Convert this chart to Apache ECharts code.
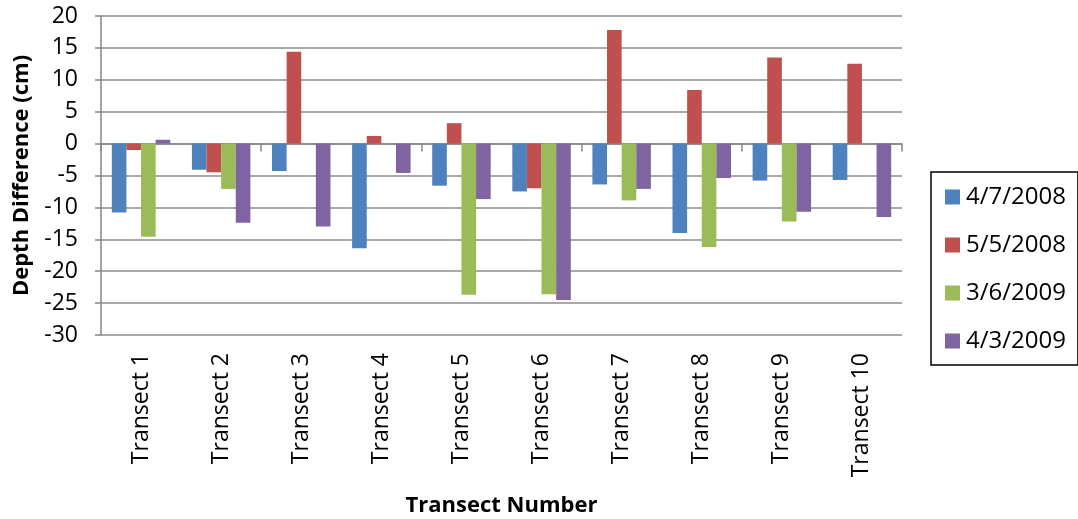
<!DOCTYPE html>
<html>
<head>
<meta charset="utf-8">
<script src="https://cdn.jsdelivr.net/npm/echarts@6/dist/echarts.min.js"></script>
<style>
html,body{margin:0;padding:0;background:#fff;}
#chart{width:1078px;height:519px;}
</style>
</head>
<body>
<div id="chart"></div>
<script>
// 数据
var categories=['Transect 1','Transect 2','Transect 3','Transect 4','Transect 5','Transect 6','Transect 7','Transect 8','Transect 9','Transect 10'];
var seriesNames=['4/7/2008','5/5/2008','3/6/2009','4/3/2009'];
var d20080407=[-10.8,-4.1,-4.3,-16.4,-6.6,-7.5,-6.4,-14.0,-5.8,-5.7];
var d20080505=[-1.0,-4.5,14.4,1.2,3.2,-7.0,17.8,8.4,13.5,12.5];
var d20090306=[-14.6,-7.1,0,0,-23.7,-23.6,-8.9,-16.2,-12.2,0];
var d20090403=[0.6,-12.4,-13.0,-4.6,-8.7,-24.5,-7.1,-5.4,-10.7,-11.5];
var colors=['#4F81BD','#C0504D','#9BBB59','#8064A2'];

var font='"Open Sans", "Liberation Sans", sans-serif';
var chart=echarts.init(document.getElementById('chart'));
var allData=[d20080407,d20080505,d20090306,d20090403];
var series=[];
for(var i=0;i<allData.length;i++){
	series.push({
		name:seriesNames[i],
		type:'bar',
		data:allData[i],
		xAxisIndex:0,
		barGap:'0%',
		barCategoryGap:'27%',
		itemStyle:{color:colors[i]}
	});
}
var option={
	backgroundColor:'#ffffff',
	animation:false,
	grid:{left:101,right:176,top:16,bottom:184,containLabel:false,outerBoundsMode:'none'},
	legend:{
		orient:'vertical',
		left:931,
		top:172,
		padding:[13,12,12,14],
		itemGap:24,
		itemWidth:15,
		itemHeight:15,
		borderColor:'#000',
		borderWidth:1.5,
		icon:'rect',
		textStyle:{fontFamily:font,fontSize:24,color:'#000',padding:[0,0,0,1]},
		data:seriesNames
	},
	xAxis:[
		{
			type:'category',
			data:categories,
			position:'bottom',
			axisLine:{onZero:true,lineStyle:{color:'#868686',width:1.5}},
			axisTick:{show:true,length:8,lineStyle:{color:'#868686',width:1.5}},
			axisLabel:{show:false},
			splitLine:{show:false}
		},
		{
			type:'category',
			data:categories,
			position:'bottom',
			axisLine:{show:false,onZero:false},
			axisTick:{show:false},
			axisLabel:{show:true,rotate:90,margin:18,fontFamily:font,fontSize:23,color:'#000'},
			name:'Transect Number',
			nameLocation:'middle',
			nameGap:160,
			nameTextStyle:{fontFamily:font,fontSize:22,fontWeight:'bold',color:'#000'}
		}
	],
	yAxis:{
		type:'value',
		min:-30,
		max:20,
		interval:5,
		name:'Depth Difference (cm)',
		nameLocation:'middle',
		nameGap:68,
		nameTextStyle:{fontFamily:font,fontSize:22,fontWeight:'bold',color:'#000'},
		axisLine:{show:true,lineStyle:{color:'#868686',width:1.5}},
		axisTick:{show:true,length:6,lineStyle:{color:'#868686',width:1.5}},
		axisLabel:{fontFamily:font,fontSize:23,color:'#000',margin:23},
		splitLine:{show:true,lineStyle:{color:'#8c8c8c',width:1.5}}
	},
	series:series
};
chart.setOption(option);
</script>
</body>
</html>
